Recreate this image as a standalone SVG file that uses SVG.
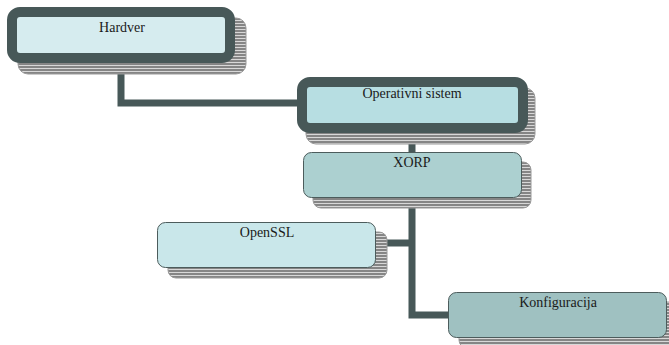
<svg xmlns="http://www.w3.org/2000/svg" width="669" height="345" viewBox="0 0 669 345">
<defs>
<pattern id="hatch" width="4" height="3" patternUnits="userSpaceOnUse">
<rect width="4" height="3" fill="#858585"/>
<rect y="2" width="4" height="1" fill="#d8d8d8"/>
</pattern>
<style>
.sh{fill:url(#hatch);stroke:#9a9a9a;stroke-width:1}
.lbl{font-family:"Liberation Serif","Times New Roman",serif;font-size:14px;fill:#1a1a1a;text-anchor:middle}
.thick{stroke:#475858;stroke-width:10}
.thin{stroke:#4c5c5c;stroke-width:1}
.conn{fill:none;stroke:#475858;stroke-width:7}
</style>
</defs>
<rect width="669" height="345" fill="#ffffff"/>
<g id="connectors">
<path class="conn" d="M121,63 V103 H297"/>
<path class="conn" d="M412,133 V152"/>
<path class="conn" d="M412,198 V315 H448"/>
<path class="conn" d="M386,243 H412"/>
</g>
<g id="hardver">
<rect class="sh" x="18" y="18" width="228" height="56" rx="10"/>
<rect class="thick" x="12" y="12" width="218" height="46" rx="8" fill="#d6ecef"/>
<text class="lbl" x="122" y="32">Hardver</text>
</g>
<g id="operativni">
<rect class="sh" x="306" y="88" width="229" height="56" rx="10"/>
<rect class="thick" x="302" y="82" width="221" height="46" rx="8" fill="#b7dee2"/>
<text class="lbl" x="412" y="98">Operativni sistem</text>
</g>
<g id="xorp">
<rect class="sh" x="313" y="162" width="218" height="46" rx="8"/>
<rect class="thin" x="303.5" y="152.5" width="218" height="45" rx="8" fill="#acd0d0"/>
<text class="lbl" x="412" y="167">XORP</text>
</g>
<g id="openssl">
<rect class="sh" x="168" y="232" width="219" height="46" rx="8"/>
<rect class="thin" x="157.5" y="222.5" width="218" height="45" rx="8" fill="#c9e7ea"/>
<text class="lbl" x="267" y="237">OpenSSL</text>
</g>
<g id="konfiguracija">
<rect class="sh" x="459" y="302" width="218" height="46" rx="8"/>
<rect class="thin" x="448.5" y="292.5" width="218" height="45" rx="8" fill="#9fc1c1"/>
<text class="lbl" x="558" y="307">Konfiguracija</text>
</g>
</svg>
